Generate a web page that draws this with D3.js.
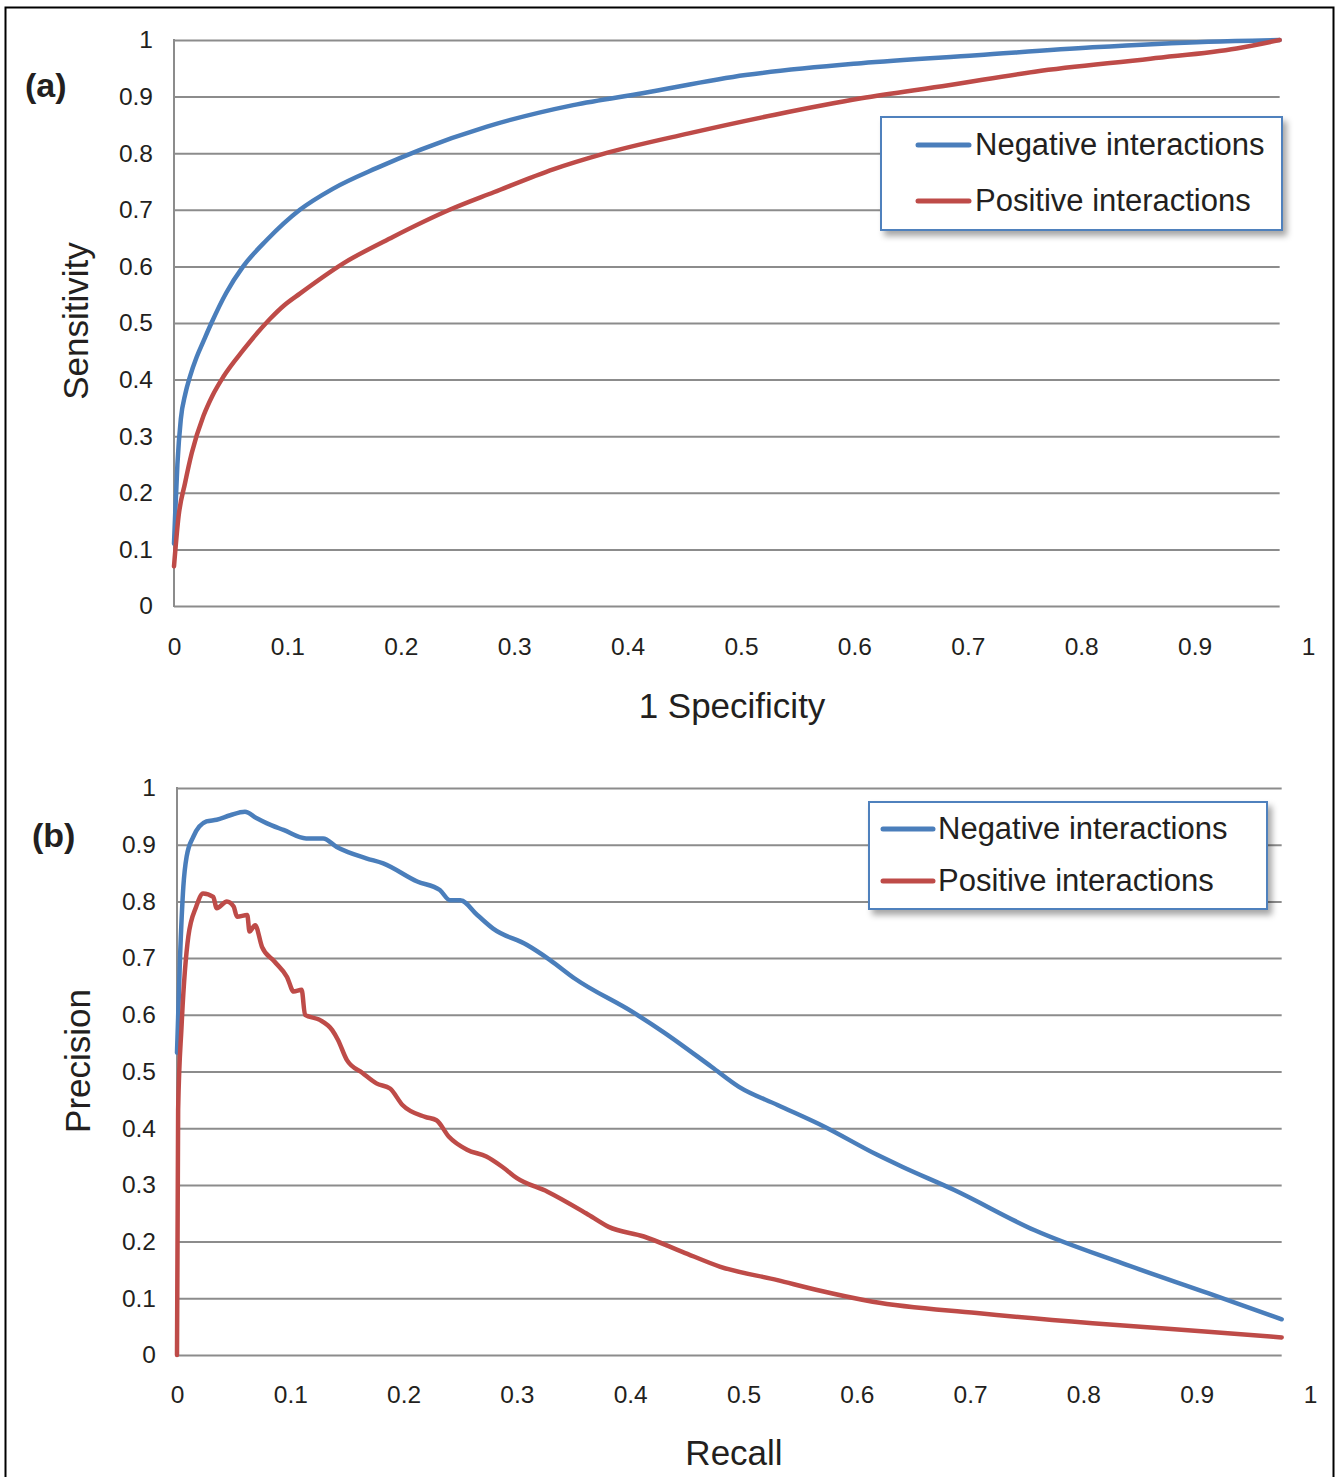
<!DOCTYPE html>
<html>
<head>
<meta charset="utf-8">
<script src="https://cdn.jsdelivr.net/npm/d3@7"></script>
<style>
  body { margin: 0; background: #fff; }
  text { font-family: "Liberation Sans", Arial, sans-serif; fill: #231f20; }
</style>
</head>
<body>
<script>
// series names
const seriesNames = ["Negative interactions", "Positive interactions"];
const seriesColors = ["#4a7ebb", "#be4b48"];

// tick values
const xTicks = [0, 0.1, 0.2, 0.3, 0.4, 0.5, 0.6, 0.7, 0.8, 0.9, 1];
const yTicks = [0, 0.1, 0.2, 0.3, 0.4, 0.5, 0.6, 0.7, 0.8, 0.9, 1];

// (a) ROC curves: [1 - specificity, sensitivity]
const rocNegative = [
  [0, 0.11], [0.001, 0.16], [0.003, 0.25], [0.006, 0.33], [0.010, 0.375], [0.014, 0.405],
  [0.020, 0.44], [0.026, 0.468], [0.033, 0.50], [0.046, 0.553], [0.061, 0.60], [0.082, 0.647],
  [0.111, 0.70], [0.140, 0.737], [0.179, 0.774], [0.217, 0.806], [0.276, 0.847], [0.352, 0.885],
  [0.413, 0.906], [0.504, 0.938], [0.606, 0.959], [0.708, 0.973], [0.810, 0.987], [0.912, 0.997],
  [0.975, 1.0]
];
const rocPositive = [
  [0, 0.07], [0.004, 0.158], [0.0097, 0.217], [0.0156, 0.27], [0.026, 0.336], [0.034, 0.372],
  [0.0435, 0.405], [0.061, 0.452], [0.085, 0.508], [0.097, 0.531], [0.111, 0.552], [0.149, 0.605],
  [0.193, 0.652], [0.243, 0.70], [0.282, 0.731], [0.335, 0.772], [0.377, 0.798], [0.454, 0.835],
  [0.530, 0.868], [0.606, 0.897], [0.683, 0.920], [0.759, 0.944], [0.861, 0.967], [0.937, 0.985],
  [0.975, 1.0]
];

// (b) precision-recall curves: [recall, precision]
const prNegative = [
  [0, 0.533], [0.0026, 0.697], [0.0056, 0.826], [0.0085, 0.879], [0.0144, 0.914], [0.026, 0.941],
  [0.035, 0.944], [0.047, 0.952], [0.060, 0.958], [0.070, 0.947], [0.079, 0.938], [0.094, 0.926],
  [0.114, 0.911], [0.129, 0.911], [0.141, 0.896], [0.167, 0.876], [0.182, 0.867], [0.212, 0.835],
  [0.232, 0.820], [0.241, 0.802], [0.250, 0.802], [0.265, 0.776], [0.279, 0.752], [0.309, 0.723],
  [0.329, 0.697], [0.351, 0.664], [0.402, 0.605], [0.429, 0.570], [0.472, 0.508], [0.496, 0.473],
  [0.530, 0.441], [0.571, 0.403], [0.618, 0.353], [0.640, 0.332], [0.686, 0.291], [0.757, 0.220],
  [0.834, 0.162], [0.910, 0.109], [0.975, 0.063]
];
const prPositive = [
  [0, 0], [0.001, 0.432], [0.004, 0.579], [0.010, 0.738], [0.017, 0.791], [0.023, 0.814],
  [0.032, 0.808], [0.035, 0.788], [0.044, 0.800], [0.050, 0.791], [0.053, 0.773], [0.062, 0.776],
  [0.064, 0.747], [0.069, 0.758], [0.075, 0.720], [0.086, 0.694], [0.097, 0.667], [0.103, 0.641],
  [0.110, 0.644], [0.113, 0.600], [0.126, 0.591], [0.137, 0.573], [0.142, 0.556], [0.150, 0.520],
  [0.164, 0.497], [0.176, 0.479], [0.188, 0.470], [0.199, 0.441], [0.219, 0.420], [0.229, 0.414],
  [0.240, 0.385], [0.256, 0.362], [0.273, 0.350], [0.287, 0.332], [0.300, 0.312], [0.327, 0.288],
  [0.361, 0.250], [0.381, 0.226], [0.412, 0.209], [0.446, 0.182], [0.479, 0.156], [0.530, 0.132],
  [0.564, 0.115], [0.614, 0.094], [0.706, 0.074], [0.808, 0.056], [0.910, 0.041], [0.975, 0.031]
];

const w = 1335, h = 1477;
const gridEnd = 0.975; // plot area stops before x = 1

const svg = d3.select('body').append('svg')
  .attr('width', w)
  .attr('height', h);

// soft shadow under legend boxes
const defs = svg.append('defs');
defs.append('filter').attr('id', 'shadow')
  .attr('x', '-10%').attr('y', '-10%').attr('width', '130%').attr('height', '140%')
  .append('feDropShadow')
  .attr('dx', 4).attr('dy', 5).attr('stdDeviation', 3)
  .attr('flood-color', '#000').attr('flood-opacity', 0.35);

// outer frame
svg.append('rect')
  .attr('x', 5.5).attr('y', 7.5)
  .attr('width', 1328).attr('height', 1500)
  .attr('fill', 'none').attr('stroke', '#000').attr('stroke-width', 2);

function drawPanel(p) {
  const xScale = d3.scaleLinear().domain([0, 1]).range([p.left, p.right]);
  const yScale = d3.scaleLinear().domain([0, 1]).range([p.bottom, p.top]);
  const g = svg.append('g');

  //gridlines + y labels
  const yAxis = d3.axisLeft(yScale)
    .tickValues(yTicks)
    .tickSize(-(xScale(gridEnd) - p.left))
    .tickPadding(21)
    .tickFormat(d3.format(''));
  const ya = g.append('g')
    .attr('transform', 'translate(' + p.left + ',0)')
    .call(yAxis);
  ya.select('.domain').remove();
  ya.selectAll('line').attr('stroke', '#8c8c8c').attr('stroke-width', 2);
  ya.selectAll('text').style('font-size', '24.5px').attr('fill', '#231f20');

  // x labels
  const xAxis = d3.axisBottom(xScale)
    .tickValues(xTicks)
    .tickSize(0)
    .tickPadding(p.xPad)
    .tickFormat(d3.format(''));
  const xa = g.append('g')
    .attr('transform', 'translate(0,' + p.bottom + ')')
    .call(xAxis);
  xa.select('.domain').remove();
  xa.selectAll('text').style('font-size', '24.5px').attr('fill', '#231f20');

  // vertical axis line
  g.append('line')
    .attr('x1', p.left).attr('x2', p.left)
    .attr('y1', yScale(0) + 1).attr('y2', yScale(1) - 1)
    .attr('stroke', '#8c8c8c').attr('stroke-width', 2);

  // curves
  const line = d3.line()
    .x(d => xScale(d[0]))
    .y(d => yScale(d[1]))
    .curve(d3.curveMonotoneX);
  p.series.forEach((s, i) => {
    g.append('path')
      .datum(s)
      .attr('d', line)
      .attr('fill', 'none')
      .attr('stroke', seriesColors[i])
      .attr('stroke-width', 4.5)
      .attr('stroke-linejoin', 'round')
      .attr('stroke-linecap', 'round');
  });

  // legend
  const L = p.legend;
  const lg = g.append('g');
  lg.append('rect')
    .attr('x', L.x).attr('y', L.y)
    .attr('width', L.w).attr('height', L.h)
    .attr('fill', '#fff')
    .attr('stroke', '#4f81bd').attr('stroke-width', 2)
    .attr('filter', 'url(#shadow)');
  seriesNames.forEach((name, i) => {
    lg.append('line')
      .attr('x1', L.lineX1).attr('x2', L.lineX2)
      .attr('y1', L.rows[i]).attr('y2', L.rows[i])
      .attr('stroke', seriesColors[i])
      .attr('stroke-width', 5)
      .attr('stroke-linecap', 'round');
    lg.append('text')
      .attr('x', L.textX).attr('y', L.rows[i])
      .attr('dy', '0.32em')
      .style('font-size', '31px')
      .text(name);
  });

  // axis titles
  g.append('text')
    .attr('x', p.xTitle[0]).attr('y', p.xTitle[1])
    .attr('text-anchor', 'middle')
    .style('font-size', '35px')
    .text(p.xLabel);
  g.append('text')
    .attr('transform', 'translate(' + p.yTitle[0] + ',' + p.yTitle[1] + ') rotate(-90)')
    .attr('text-anchor', 'middle')
    .style('font-size', '35px')
    .text(p.yLabel);

  // panel tag
  g.append('text')
    .attr('x', p.tag[0]).attr('y', p.tag[1])
    .style('font-size', '34px')
    .style('font-weight', 'bold')
    .text(p.tagText);
}

drawPanel({
  left: 174, right: 1308, top: 40, bottom: 606, xPad: 32,
  series: [rocNegative, rocPositive],
  legend: { x: 881, y: 117, w: 401, h: 113, lineX1: 918, lineX2: 969, textX: 975, rows: [145, 201] },
  xLabel: '1 Specificity', xTitle: [732, 718],
  yLabel: 'Sensitivity', yTitle: [88, 321],
  tagText: '(a)', tag: [25, 97]
});

drawPanel({
  left: 177, right: 1310, top: 788, bottom: 1355, xPad: 31,
  series: [prNegative, prPositive],
  legend: { x: 869, y: 802, w: 398, h: 107, lineX1: 883, lineX2: 933, textX: 938, rows: [829, 881] },
  xLabel: 'Recall', xTitle: [734, 1465],
  yLabel: 'Precision', yTitle: [90, 1061],
  tagText: '(b)', tag: [32, 847]
});
</script>
</body>
</html>
